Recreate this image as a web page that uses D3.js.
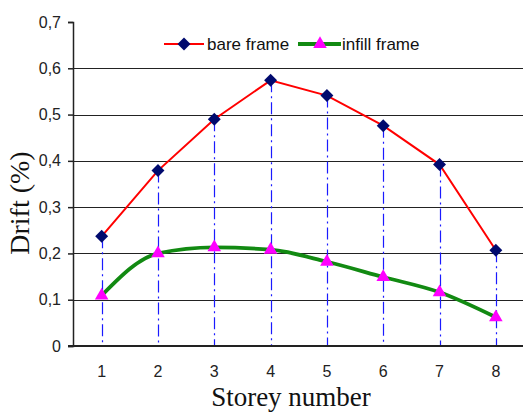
<!DOCTYPE html>
<html>
<head>
<meta charset="utf-8">
<script src="https://cdn.jsdelivr.net/npm/d3@7/dist/d3.min.js"></script>
<style>
  html, body { margin: 0; padding: 0; background: #fff; }
  svg { display: block; }
</style>
</head>
<body>
<svg id="chart" width="523" height="413"></svg>
<script>
// Storey drift profiles
const storeys = [1, 2, 3, 4, 5, 6, 7, 8];
const bareFrame = [0.237, 0.379, 0.490, 0.574, 0.541, 0.476, 0.392, 0.207];
const infillFrame = [0.109, 0.200, 0.213, 0.208, 0.182, 0.149, 0.116, 0.062];
const yTicks = [0, 0.1, 0.2, 0.3, 0.4, 0.5, 0.6, 0.7];

const svg = d3.select("#chart");
const margin = { left: 73, right: -1, top: 22, bottom: 67 };
const W = 523, H = 413;
const sans = "Liberation Sans, Arial, sans-serif";
const serif = "Liberation Serif, Times New Roman, serif";

const x = d3.scaleBand()
  .domain(storeys)
  .range([margin.left + 0.5, W - margin.right])
  .padding(0);

const y = d3.scaleLinear()
  .domain([0, 0.7])
  .range([H - margin.bottom, margin.top]);

const cx = d => x(d) + x.bandwidth() / 2;
const fmt = v => v === 0 ? "0" : d3.format(".1f")(v).replace(".", ",");

// horizontal gridlines
svg.append("g")
  .selectAll("line")
  .data(yTicks.filter(t => t > 0 && t < 0.7))
  .join("line")
  .attr("x1", margin.left)
  .attr("x2", W)
  .attr("y1", d => Math.round(y(d)) + 0.5)
  .attr("y2", d => Math.round(y(d)) + 0.5)
  .attr("stroke", "#222")
  .attr("stroke-width", 1.2);

// dash-dot droplines from the bare frame points
svg.append("g")
  .selectAll("line")
  .data(storeys)
  .join("line")
  .attr("x1", d => Math.round(cx(d)) + 0.5)
  .attr("x2", d => Math.round(cx(d)) + 0.5)
  .attr("y1", (d, i) => y(bareFrame[i]))
  .attr("y2", y(0))
  .attr("stroke", "#1a1aff")
  .attr("stroke-width", 1.2)
  .attr("stroke-dasharray", "12,4,2,4");

// y axis
const yAxis = d3.axisLeft(y)
  .tickValues(yTicks)
  .tickFormat(fmt)
  .tickSize(5)
  .tickPadding(7);
const gy = svg.append("g")
  .attr("transform", `translate(${margin.left},0)`)
  .call(yAxis);
gy.select(".domain").attr("stroke", "#222").attr("stroke-width", 1.5);
gy.selectAll(".tick line").attr("stroke", "#222").attr("stroke-width", 1.5);
gy.selectAll(".tick text")
  .attr("font-family", sans)
  .attr("font-size", 16)
  .attr("fill", "#222");

// x axis (baseline at zero)
const xAxis = d3.axisBottom(x).tickSize(0).tickPadding(20);
const gx = svg.append("g")
  .attr("transform", `translate(0,${y(0)})`)
  .call(xAxis);
gx.select(".domain").remove();
gx.selectAll(".tick text")
  .attr("font-family", sans)
  .attr("font-size", 16)
  .attr("fill", "#222");
svg.append("line")
  .attr("x1", margin.left - 5)
  .attr("x2", W)
  .attr("y1", y(0))
  .attr("y2", y(0))
  .attr("stroke", "#222")
  .attr("stroke-width", 1.8);

// series lines
const redLine = d3.line()
  .x((d, i) => cx(storeys[i]))
  .y(d => y(d));
const greenLine = d3.line()
  .x((d, i) => cx(storeys[i]))
  .y(d => y(d))
  .curve(d3.curveMonotoneX);

svg.append("path")
  .datum(bareFrame)
  .attr("d", redLine)
  .attr("fill", "none")
  .attr("stroke", "#ff0000")
  .attr("stroke-width", 2);

svg.append("path")
  .datum(infillFrame)
  .attr("d", greenLine)
  .attr("fill", "none")
  .attr("stroke", "#128a12")
  .attr("stroke-width", 3.8);

// markers
const diamond = d3.symbol().type(d3.symbolSquare).size(84);
const triangle = d3.symbol().type(d3.symbolTriangle).size(80);

svg.append("g")
  .selectAll("path")
  .data(bareFrame)
  .join("path")
  .attr("d", diamond)
  .attr("transform", (d, i) => `translate(${cx(storeys[i])},${y(d)}) rotate(45)`)
  .attr("fill", "#000a6e");

svg.append("g")
  .selectAll("path")
  .data(infillFrame)
  .join("path")
  .attr("d", triangle)
  .attr("transform", (d, i) => `translate(${cx(storeys[i])},${y(d)})`)
  .attr("fill", "#ff00ff");

// legend
const legend = svg.append("g").attr("font-family", sans).attr("font-size", 17).attr("fill", "#111");
const ly = 44;
legend.append("line").attr("x1", 164).attr("x2", 204).attr("y1", ly).attr("y2", ly)
  .attr("stroke", "#ff0000").attr("stroke-width", 2);
legend.append("path").attr("d", diamond).attr("transform", `translate(184,${ly}) rotate(45)`).attr("fill", "#000a6e");
legend.append("text").attr("x", 207).attr("y", ly + 6).text("bare frame");
legend.append("line").attr("x1", 298).attr("x2", 341).attr("y1", ly).attr("y2", ly)
  .attr("stroke", "#128a12").attr("stroke-width", 3.8);
legend.append("path").attr("d", triangle).attr("transform", `translate(320,${ly})`).attr("fill", "#ff00ff");
legend.append("text").attr("x", 342).attr("y", ly + 6).text("infill frame");

// axis titles
svg.append("text")
  .attr("transform", "translate(29,203) rotate(-90)")
  .attr("text-anchor", "middle")
  .attr("font-family", serif)
  .attr("font-size", 28)
  .attr("fill", "#111")
  .text("Drift (%)");

svg.append("text")
  .attr("x", 291)
  .attr("y", 406)
  .attr("text-anchor", "middle")
  .attr("font-family", serif)
  .attr("font-size", 27)
  .attr("fill", "#111")
  .text("Storey number");
</script>
</body>
</html>
